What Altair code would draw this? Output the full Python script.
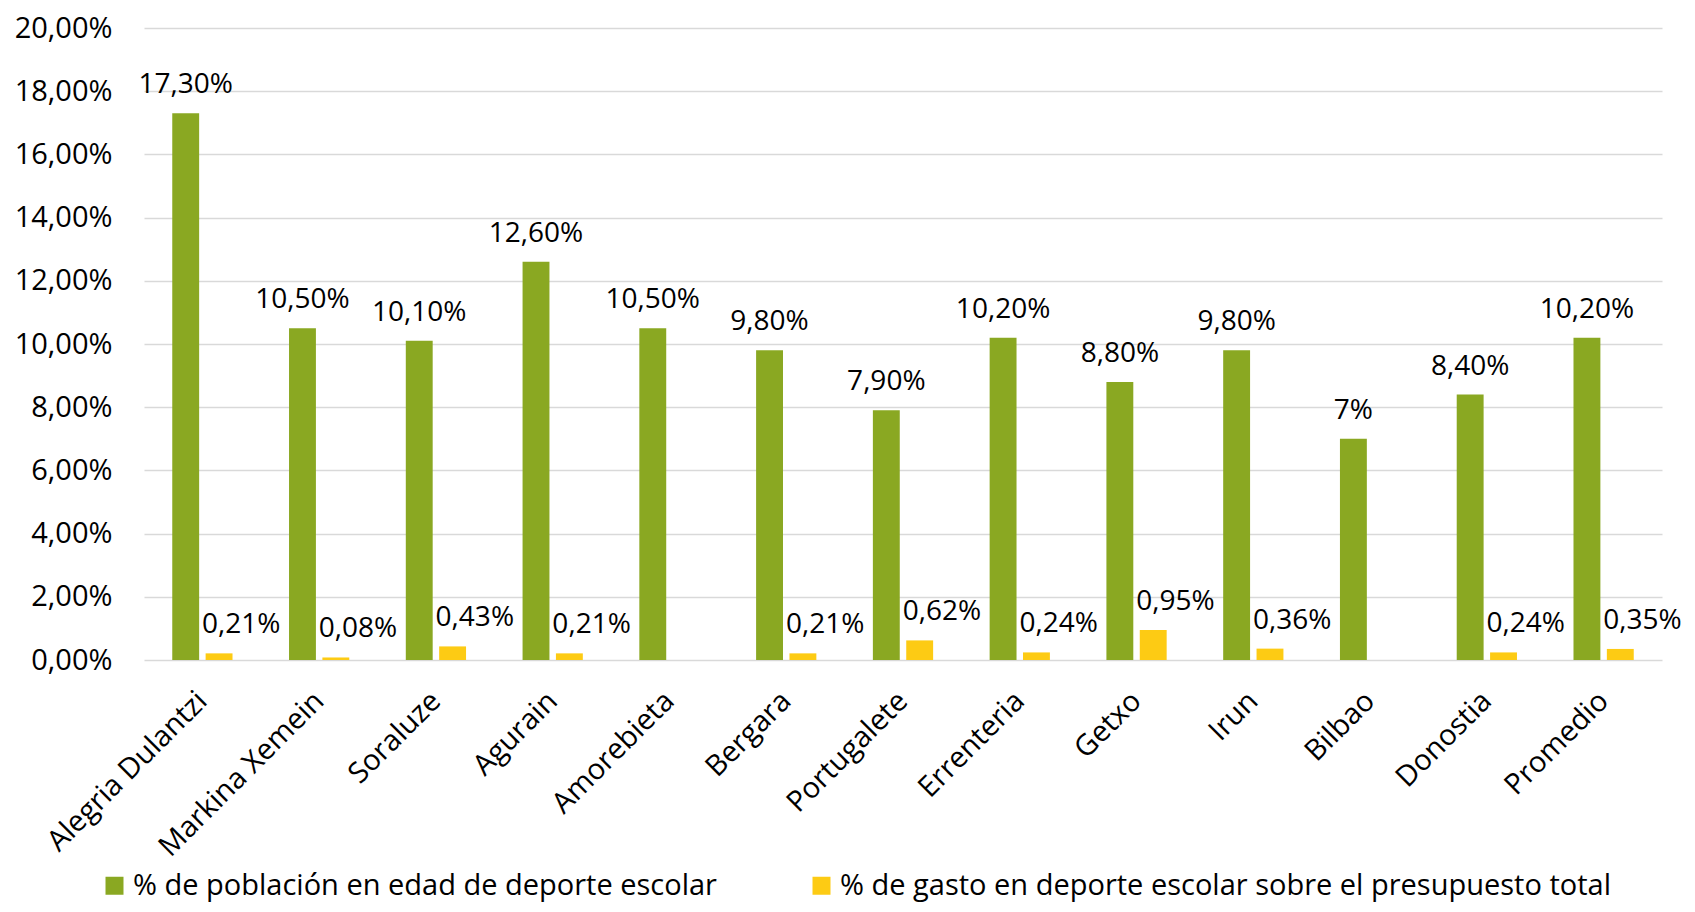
import altair as alt
import pandas as pd

municipios = ["Alegria Dulantzi", "Markina Xemein", "Soraluze", "Agurain", "Amorebieta",
              "Bergara", "Portugalete", "Errenteria", "Getxo", "Irun", "Bilbao", "Donostia", "Promedio"]
serie_a = "% de población en edad de deporte escolar"
serie_b = "% de gasto en deporte escolar sobre el presupuesto total"
poblacion = [17.3, 10.5, 10.1, 12.6, 10.5, 9.8, 7.9, 10.2, 8.8, 9.8, 7.0, 8.4, 10.2]
poblacion_txt = ["17,30%", "10,50%", "10,10%", "12,60%", "10,50%", "9,80%", "7,90%",
                 "10,20%", "8,80%", "9,80%", "7%", "8,40%", "10,20%"]
gasto = [0.21, 0.08, 0.43, 0.21, None, 0.21, 0.62, 0.24, 0.95, 0.36, None, 0.24, 0.35]
gasto_txt = ["0,21%", "0,08%", "0,43%", "0,21%", "", "0,21%", "0,62%", "0,24%", "0,95%",
             "0,36%", "", "0,24%", "0,35%"]
y_ticks = [0, 2, 4, 6, 8, 10, 12, 14, 16, 18, 20]

rows = []
for i, m in enumerate(municipios):
    rows.append({"municipio": m, "serie": serie_a, "valor": poblacion[i], "etiqueta": poblacion_txt[i]})
    if gasto[i] is not None:
        rows.append({"municipio": m, "serie": serie_b, "valor": gasto[i], "etiqueta": gasto_txt[i]})
df = pd.DataFrame(rows)

FONT = "Open Sans"
FS = 29
FS_LBL = 28

x_enc = alt.X("municipio:N", sort=municipios,
              scale=alt.Scale(paddingInner=0.484, paddingOuter=0.242),
              axis=alt.Axis(title=None, labelAngle=-45, labelAlign="right", labelBaseline="middle",
                            labelPadding=36, labelLimit=500, ticks=False, domain=False,
                            labelFont=FONT, labelFontSize=FS, labelColor="black"))
xo_enc = alt.XOffset("serie:N", sort=[serie_a, serie_b],
                     scale=alt.Scale(domain=[serie_a, serie_b], paddingInner=0.194, paddingOuter=0))
y_enc = alt.Y("valor:Q", scale=alt.Scale(domain=[0, 20], nice=False),
              axis=alt.Axis(title=None, values=y_ticks, grid=True, gridColor="#d9d9d9", gridWidth=1.5,
                            ticks=False, domain=False, labelPadding=32,
                            labelExpr="replace(format(datum.value, '.2f'), '.', ',') + '%'",
                            labelFont=FONT, labelFontSize=FS, labelColor="black"))

bars = alt.Chart(df).mark_bar().encode(
    x=x_enc, xOffset=xo_enc, y=y_enc,
    color=alt.Color("serie:N", sort=[serie_a, serie_b],
                    scale=alt.Scale(domain=[serie_a, serie_b], range=["#8aa822", "#fdcb14"]),
                    legend=alt.Legend(title=None, orient="none", legendX=-44, legendY=843,
                                      direction="horizontal", symbolType="square", symbolSize=324,
                                      symbolStrokeWidth=0, labelFont=FONT, labelFontSize=FS,
                                      labelColor="black", labelOffset=4, columnPadding=90,
                                      labelLimit=1000, padding=0))
)

txt_a = alt.Chart(df).transform_filter(alt.datum.serie == serie_a).mark_text(
    font=FONT, fontSize=FS_LBL, color="black", align="center", baseline="alphabetic", dy=-20
).encode(x=x_enc, xOffset=xo_enc, y=y_enc, text="etiqueta:N")

txt_b = alt.Chart(df).transform_filter(alt.datum.serie == serie_b).mark_text(
    font=FONT, fontSize=FS_LBL, color="black", align="left", baseline="alphabetic", dy=-20, dx=-17
).encode(x=x_enc, xOffset=xo_enc, y=y_enc, text="etiqueta:N")

chart = alt.layer(bars, txt_a, txt_b).properties(
    width=1518, height=632,
    autosize=alt.AutoSizeParams(type="none"),
    padding={"left": 136, "top": 20, "right": 25, "bottom": 244},
).configure_view(stroke=None)

chart.save("out.html", embed_options={"renderer": "svg", "actions": False})
